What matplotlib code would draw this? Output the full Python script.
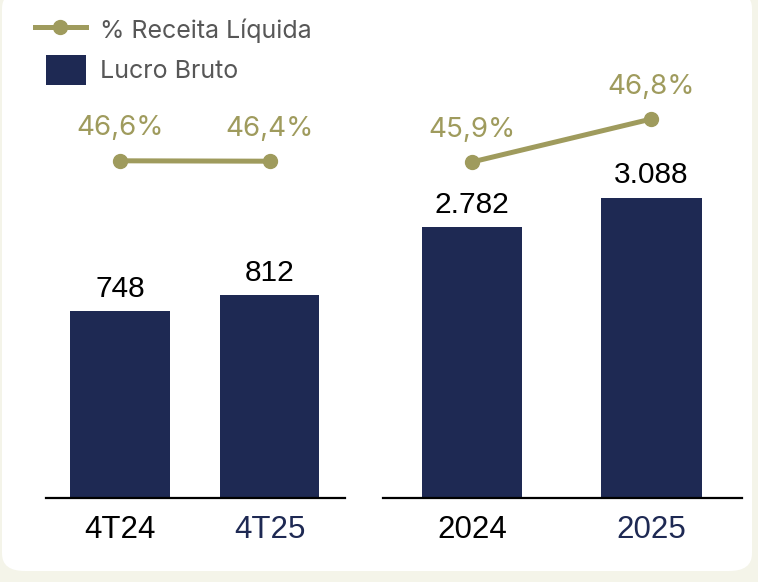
import matplotlib
matplotlib.use("Agg")
import matplotlib.pyplot as plt
from matplotlib.patches import FancyBboxPatch, Rectangle
from matplotlib.legend_handler import HandlerPatch

# data
quarters = ["4T24", "4T25"]
quarter_profit = [748, 812]
quarter_pct = [46.6, 46.4]

years = ["2024", "2025"]
year_profit = [2782, 3088]
year_pct = [45.9, 46.8]

bar_labels_q = ["748", "812"]
bar_labels_y = ["2.782", "3.088"]
pct_labels_q = ["46,6%", "46,4%"]
pct_labels_y = ["45,9%", "46,8%"]

navy = "#1e2953"
olive = "#9f9b5d"
cream = "#f4f4e9"

fig = plt.figure(figsize=(7.58, 5.82), dpi=100)
fig.patch.set_facecolor(cream)

# white rounded card behind the chart
card = FancyBboxPatch((2 / 758, 11 / 582), 750 / 758, 580 / 582,
                      boxstyle="round,pad=0,rounding_size=0.03",
                      transform=fig.transFigure, facecolor="white",
                      edgecolor="none", zorder=-5)
fig.patches.append(card)

num_font = "Liberation Sans"
pct_font = "Inter"


def panel(rect, names, profit, pct, bar_lbls, pct_lbls, bar_w, ymax, pct_lim):
    ax = fig.add_axes(rect)
    ax.patch.set_alpha(0)
    x = range(len(names))
    bars = ax.bar(x, profit, width=bar_w, color=navy, zorder=2)
    for b, lbl in zip(bars, bar_lbls):
        ax.annotate(lbl, (b.get_x() + b.get_width() / 2, b.get_height()),
                    xytext=(0, 6), textcoords="offset points",
                    ha="center", va="bottom", fontsize=21.5,
                    family=num_font, color="black")
    ax.set_ylim(0, ymax)
    ax.set_xlim(-0.495, 1.505)
    for s in ["top", "left", "right"]:
        ax.spines[s].set_visible(False)
    ax.spines["bottom"].set_linewidth(1.6)
    ax.set_yticks([])
    ax.set_xticks(list(x))
    ax.set_xticklabels(names, fontsize=22.5, family=num_font)
    ax.tick_params(axis="x", length=0, pad=12)
    ax.get_xticklabels()[0].set_color("black")
    ax.get_xticklabels()[1].set_color(navy)

    ax2 = ax.twinx()
    line, = ax2.plot(list(x), pct, color=olive, lw=3.6, marker="o",
                     markersize=10, zorder=3)
    for xi, v, lbl in zip(x, pct, pct_lbls):
        ax2.annotate(lbl, (xi, v), xytext=(0, 14), textcoords="offset points",
                     ha="center", va="bottom", fontsize=20,
                     family=pct_font, color=olive)
    ax2.set_ylim(*pct_lim)
    ax2.axis("off")
    return bars, line


bottom = 1 - 498 / 582
height = 498 / 582
bars, line = panel([46 / 758, bottom, 299 / 758, height], quarters,
                   quarter_profit, quarter_pct, bar_labels_q, pct_labels_q,
                   0.667, 1992, (-122, 127))
panel([383 / 758, bottom, 359 / 758, height], years, year_profit, year_pct,
      bar_labels_y, pct_labels_y, 0.559, 5120, (38.87, 49.29))


# smaller square swatch for the bar entry
def square(legend, orig_handle, xdescent, ydescent, width, height, fontsize):
    w, h = 28.5, 21.6
    return Rectangle((-xdescent + width - w, -ydescent + (height - h) / 2), w, h)


leg = fig.legend([line, bars[0]], ["% Receita Líquida", "Lucro Bruto"],
                 loc="upper left", bbox_to_anchor=(12 / 758, 1 + 6 / 582),
                 frameon=False, handlelength=2.04, handleheight=1.2,
                 handletextpad=0.56, labelspacing=0.56,
                 handler_map={Rectangle: HandlerPatch(patch_func=square)},
                 prop={"family": pct_font, "size": 18})
for t in leg.get_texts():
    t.set_color("#575757")

fig.savefig("out.png", dpi=100, facecolor=fig.get_facecolor())
